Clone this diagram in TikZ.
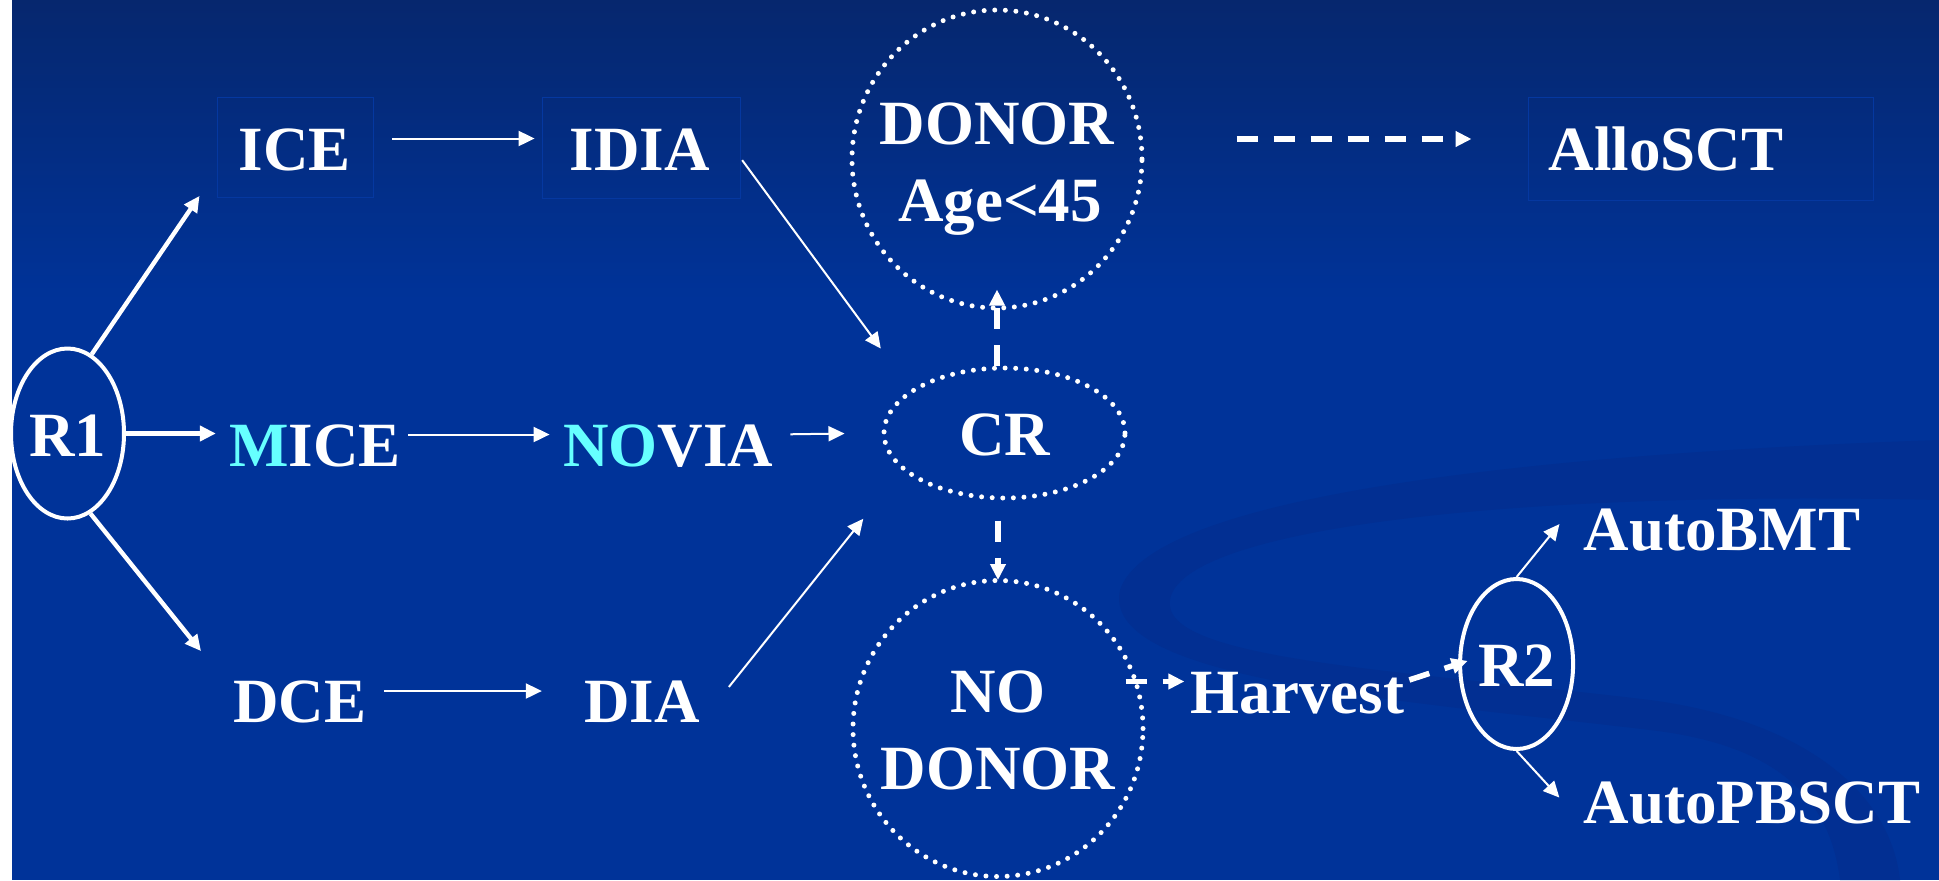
\documentclass[tikz,border=0pt]{standalone}
\usepackage{fontspec}
\setmainfont{Liberation Serif}
\usepackage{tikz}
\usetikzlibrary{arrows.meta,positioning,shapes.geometric}
\definecolor{slide}{RGB}{0,51,153}
\definecolor{slidetop}{RGB}{6,39,110}
\definecolor{ghostblue}{RGB}{5,56,160}
\definecolor{swoosh}{RGB}{2,47,146}
\definecolor{hilite}{RGB}{102,255,255}

\begin{document}
\begin{tikzpicture}[x=0.5pt, y=-0.5pt,
                    >={Triangle[length=8pt,width=7.5pt]},
                    every node/.style={font=\bfseries\fontsize{31.5}{37.5}\selectfont, text=white},
                    lbl/.style={inner sep=0pt, text height=31.5pt, text depth=0pt},
                    ring/.style={ellipse, draw=white, line width=2pt, inner sep=0pt,
                                 text height=22.7pt, text depth=0pt},
                    dotring/.style={ring, line width=2.5pt, line cap=round,
                                    dash pattern=on 0pt off 5.3pt},
                    ghost/.style={draw=ghostblue, line width=.5pt},
                    fat/.style={->, draw=white, line width=2.2pt},
                    slim/.style={->, draw=white, line width=1pt},
                    dashy/.style={->, draw=white, line width=2.8pt, dash pattern=on 10.5pt off 8pt}]
\useasboundingbox (0,0) rectangle (1939,880);
% slide background
\fill[white] (0,0) rectangle (1939,880);
\fill[slide] (12,0) rectangle (1939,880);
\shade[top color=slidetop, bottom color=slide] (12,0) rectangle (1939,300);
\fill[swoosh] (1939,440) .. controls (1500,455) and (1150,500) .. (1120,590)
   .. controls (1100,680) and (1400,700) .. (1650,730)
   .. controls (1780,745) and (1830,800) .. (1840,880) -- (1900,880)
   .. controls (1890,790) and (1800,720) .. (1650,700)
   .. controls (1400,670) and (1160,660) .. (1170,600)
   .. controls (1180,530) and (1500,490) .. (1939,500) -- cycle;
% faint placeholder frames
\draw[ghost] (217,97) rectangle (373,197);
\draw[ghost] (542,97) rectangle (740,198);
\draw[ghost] (1528,97) rectangle (1873,200);

\node[ring, minimum width=56.5pt, minimum height=85pt] (R1) at (67.5,433.5) {R1};
\node[lbl] (ICE)   at (295,138.5) {ICE};
\node[lbl] (IDIA)  at (640,138.5) {IDIA};
\node[lbl] (MICE)  at (315,434.5) {\textcolor{hilite}{M}ICE};
\node[lbl] (NOVIA) at (668.5,434.5) {\textcolor{hilite}{NO}VIA};
\node[lbl] (DCE)   at (300,691) {DCE};
\node[lbl] (DIA)   at (642,691) {DIA};
\node[dotring, minimum width=120.5pt, minimum height=65pt] (CR) at (1004.5,433) {CR};
\node[dotring, minimum width=145pt, minimum height=149pt] (DON) at (997,159) {};
\node[lbl] (DONt) at (997,113) {DONOR};
\node[lbl] (AGE)  at (1000,189.5) {Age<45};
\node[dotring, minimum width=145pt, minimum height=148pt] (NOD) at (998,728.5) {};
\node[lbl] (NOt)  at (998,681) {NO};
\node[lbl] (NODt) at (998,758) {DONOR};
\node[lbl] (ALLO) at (1666,139) {AlloSCT};
\node[lbl] (HARV) at (1297.5,681.5) {Harvest};
\node[ring, minimum width=56.5pt, minimum height=85pt] (R2) at (1516.6,664) {R2};
\node[lbl] (ABMT) at (1722,519) {AutoBMT};
\node[lbl] (APB)  at (1752,792) {AutoPBSCT};

\draw[fat, shorten >=34.7pt] (R1.73) -- (ICE.west);
\draw[fat, shorten >=6.5pt] (R1.east) -- (R1.east -| MICE.west);
\draw[fat, shorten >=25.6pt] (R1.-74) -- (DCE.west);
\draw[slim, shorten <=20.5pt, shorten >=17.5pt] (ICE.east) -- (IDIA.west);
\draw[slim, shorten <=3.5pt, shorten >=6.75pt] (MICE.east) -- (NOVIA.west);
\draw[slim, shorten <=8.25pt, shorten >=18.5pt] (NOVIA.east) -- (CR.west);
\draw[slim, shorten <=8.5pt, shorten >=21pt] (DCE.east) -- (DIA.west);
\draw[slim, shorten <=26.8pt, shorten >=25.3pt] (IDIA.17) -- (CR.155);
\draw[slim, shorten <=23pt, shorten >=31pt] (DIA.south east) -- (CR.200);
\draw[dashy, shorten <=46pt, shorten >=38.4pt] (DON.east |- ALLO.west) -- (ALLO.west);
\draw[dashy, shorten >=-10.5pt] (CR.north -| DON.south) -- (DON.south);
\draw[dashy, shorten <=10pt, shorten >=-1pt] (CR.south -| NOD.north) -- (NOD.north);
\draw[dashy, shorten <=-10pt, shorten >=3pt] (NOD.east |- HARV.west) -- (HARV.west);
\draw[dashy, shorten <=2.5pt, shorten >=-5pt] (HARV.east) -- (R2.west);
\draw[slim, shorten >=19pt] (R2.north) -- (ABMT.170);
\draw[slim, shorten >=17.9pt] (R2.south) -- (APB.south west);
\end{tikzpicture}
\end{document}
